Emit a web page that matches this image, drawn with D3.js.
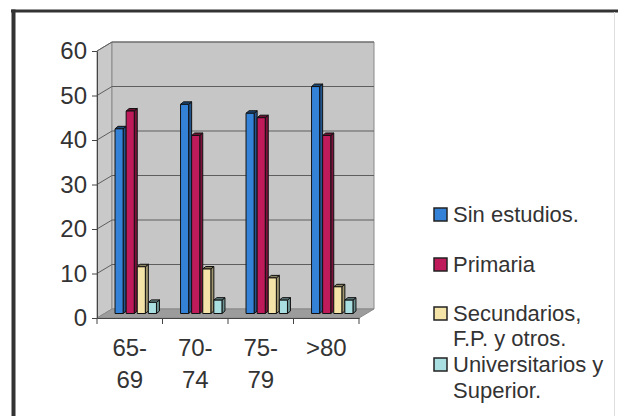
<!DOCTYPE html>
<html>
<head>
<meta charset="utf-8">
<script src="https://cdn.jsdelivr.net/npm/d3@7/dist/d3.min.js"></script>
<style>
  html, body { margin: 0; padding: 0; background: #fff; }
  svg { display: block; font-family: Arial, "Liberation Sans", sans-serif; }
</style>
</head>
<body>
<svg id="chart" width="618" height="416"></svg>
<script>
// Age groups (two-line labels) and education levels
const categories = ["65-69", "70-74", "75-79", ">80"];
const categoryLines = [["65-", "69"], ["70-", "74"], ["75-", "79"], [">80"]];
const seriesNames = ["Sin estudios.", "Primaria", "Secundarios, F.P. y otros.", "Universitarios y Superior."];
const legendLines = [["Sin estudios."], ["Primaria"], ["Secundarios,", "F.P. y otros."], ["Universitarios y", "Superior."]];
const seriesColors = ["#3482d8", "#bf1b5b", "#f4e4a8", "#a9dfe0"];

// Percentage per education level, one array per series (in category order)
const sinEstudios = [41.5, 47, 45, 51];
const primaria = [45.5, 40, 44, 40];
const secundarios = [10.5, 10, 8, 6];
const universitarios = [2.5, 3, 3, 3];
const seriesValues = [sinEstudios, primaria, secundarios, universitarios];

const yTicks = [0, 10, 20, 30, 40, 50, 60];

const svg = d3.select("#chart");

// Outer frame
svg.append("line").attr("x1", 11).attr("x2", 618).attr("y1", 11).attr("y2", 11)
  .attr("stroke", "#333").attr("stroke-width", 3);
svg.append("line").attr("x1", 13.5).attr("x2", 13.5).attr("y1", 9.5).attr("y2", 416)
  .attr("stroke", "#333").attr("stroke-width", 4);
svg.append("line").attr("x1", 614.5).attr("x2", 614.5).attr("y1", 12).attr("y2", 416)
  .attr("stroke", "#dedede").attr("stroke-width", 1);

// Plot geometry: front plane plus oblique depth offset for the walls
const x0 = 97, x1 = 359;
const DX = 15, DY = -9;

const y = d3.scaleLinear().domain([0, 60]).range([318, 51]);
const x = d3.scaleBand().domain(categories).range([x0, x1]).paddingInner(0).paddingOuter(0);
const xs = d3.scaleBand().domain(seriesNames).range([0, x.bandwidth()]).paddingInner(0).paddingOuter(0.95);

const g = svg.append("g");

// Side wall (left)
g.append("polygon")
  .attr("points", [[x0, y(0)], [x0, y(60)], [x0 + DX, y(60) + DY], [x0 + DX, y(0) + DY]].join(" "))
  .attr("fill", "#c9c9c9").attr("stroke", "#8a8a8a").attr("stroke-width", 1);
// Back wall
g.append("polygon")
  .attr("points", [[x0 + DX, y(0) + DY], [x0 + DX, y(60) + DY], [x1 + DX, y(60) + DY], [x1 + DX, y(0) + DY]].join(" "))
  .attr("fill", "#c6c6c6").attr("stroke", "#8a8a8a").attr("stroke-width", 1);
// Floor
g.append("polygon")
  .attr("points", [[x0, y(0)], [x1, y(0)], [x1 + DX, y(0) + DY], [x0 + DX, y(0) + DY]].join(" "))
  .attr("fill", "#9c9c9c").attr("stroke", "#8a8a8a").attr("stroke-width", 1);

// Gridlines on side and back walls
const grid = g.append("g").attr("stroke", "#5e5e5e").attr("stroke-width", 1).attr("fill", "none");
yTicks.filter(t => t > 0).forEach(t => {
  grid.append("polyline")
    .attr("points", [[x0, y(t)], [x0 + DX, y(t) + DY], [x1 + DX, y(t) + DY]].join(" "));
});

// Bars: placed at mid depth, each a small box (front, right side, top)
const mx = DX / 2, my = DY / 2;
const bdx = 3, bdy = -2.5;
const bw = xs.bandwidth() - bdx;
const bars = g.append("g");
categories.forEach((cat, ci) => {
  seriesNames.forEach((s, si) => {
    const v = seriesValues[si][ci];
    const c = seriesColors[si];
    const left = x(cat) + xs(s) + mx;
    const top = y(v) + my;
    const base = y(0) + my;
    const b = bars.append("g").attr("stroke", "#111").attr("stroke-width", 1).attr("stroke-linejoin", "round");
    b.append("polygon")
      .attr("points", [[left + bw, base], [left + bw, top], [left + bw + bdx, top + bdy], [left + bw + bdx, base + bdy]].join(" "))
      .attr("fill", d3.color(c).darker(1.2));
    b.append("polygon")
      .attr("points", [[left, top], [left + bdx, top + bdy], [left + bw + bdx, top + bdy], [left + bw, top]].join(" "))
      .attr("fill", d3.color(c).darker(1.6));
    b.append("rect")
      .attr("x", left).attr("y", top).attr("width", bw).attr("height", base - top)
      .attr("fill", c);
  });
});

// Y axis
const yAxis = g.append("g").attr("transform", `translate(${x0},0)`)
  .call(d3.axisLeft(y).tickValues(yTicks).tickSize(5).tickPadding(5).tickSizeOuter(0));
yAxis.select(".domain").attr("stroke", "#444");
yAxis.selectAll(".tick line").attr("stroke", "#444");
yAxis.selectAll(".tick text").attr("font-size", 24).attr("fill", "#333")
  .attr("font-family", "Arial, 'Liberation Sans', sans-serif");

// X axis (front floor edge)
const xAxis = g.append("g").attr("transform", `translate(0,${y(0)})`)
  .call(d3.axisBottom(x).tickSize(0).tickFormat(""));
xAxis.select(".domain").attr("stroke", "#444");
xAxis.selectAll(".tick").remove();
const bounds = categories.map(c => x(c)).concat([x1]);
xAxis.selectAll("line.sep").data(bounds).join("line").attr("class", "sep")
  .attr("x1", d => d).attr("x2", d => d).attr("y1", 0).attr("y2", 6)
  .attr("stroke", "#444");

// Category labels
categories.forEach((cat, i) => {
  const t = g.append("text").attr("text-anchor", "middle").attr("font-size", 24).attr("fill", "#333");
  categoryLines[i].forEach((line, li) => {
    t.append("tspan").attr("x", x(cat) + x.bandwidth() / 2).attr("y", 356 + li * 32).text(line);
  });
});

// Legend
const legendFirstBaseline = [222, 272, 321, 372];
const legendLineStep = [0, 0, 25, 26];
const legend = svg.append("g");
seriesNames.forEach((s, i) => {
  const by = legendFirstBaseline[i];
  legend.append("rect").attr("x", 434).attr("y", by - 14).attr("width", 13).attr("height", 13)
    .attr("fill", seriesColors[i]).attr("stroke", "#222").attr("stroke-width", 1.5);
  const t = legend.append("text").attr("font-size", 22).attr("fill", "#333");
  legendLines[i].forEach((line, li) => {
    t.append("tspan").attr("x", 453).attr("y", by + li * legendLineStep[i]).text(line);
  });
});
</script>
</body>
</html>
